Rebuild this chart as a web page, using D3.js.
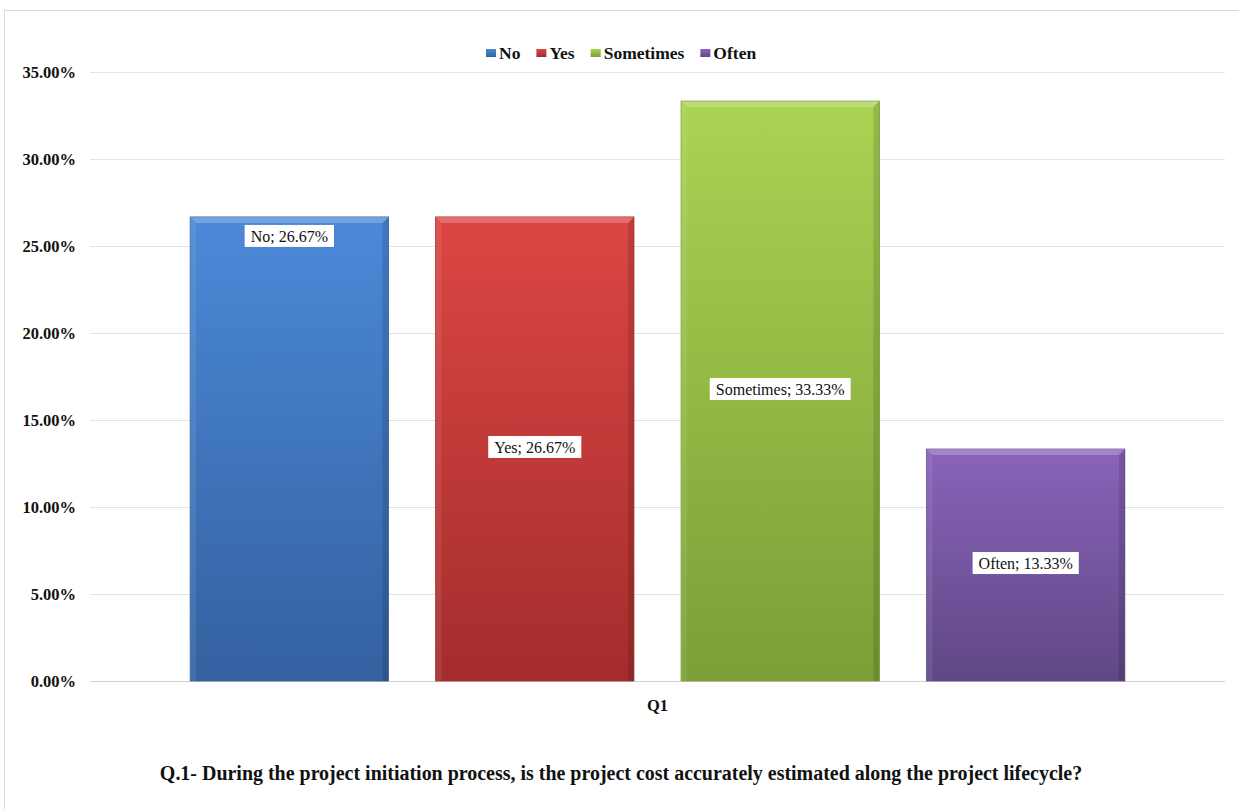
<!DOCTYPE html>
<html><head><meta charset="utf-8">
<script src="https://cdn.jsdelivr.net/npm/d3@7"></script>
<style>
html,body{margin:0;padding:0;background:#fff;}
</style></head>
<body>
<svg id="chart" width="1239" height="809"></svg>
<script>
const categories = ["No", "Yes", "Sometimes", "Often"];
const values = [26.67, 26.67, 33.33, 13.33];
const yTicks = [0, 5, 10, 15, 20, 25, 30, 35];
const groupLabel = "Q1";
const title = "Q.1- During the project initiation process, is the project cost accurately estimated along the project lifecycle?";
const colorsTop = ["#4b89d8", "#dc4644", "#abd353", "#8a63ba"];
const colorsBot = ["#3461a0", "#a32d2c", "#7b9e36", "#5f4785"];
const FONT = "Liberation Serif";

const svg = d3.select("#chart").attr("font-family", FONT);
svg.append("rect").attr("x",4.5).attr("y",10.5).attr("width",1240).attr("height",820)
  .attr("fill","none").attr("stroke","#d9d9d9");

const plot = {left:90, right:1225, top:72, bottom:681};
const y = d3.scaleLinear().domain([0,35]).range([plot.bottom, plot.top]);
const x = d3.scaleBand().domain(categories).range([plot.left, plot.right]).paddingInner(0.192).paddingOuter(0.408);

const defs = svg.append("defs");
categories.forEach((c,i)=>{
  const g = defs.append("linearGradient").attr("id","g"+i).attr("x1",0).attr("y1",0).attr("x2",0).attr("y2",1);
  g.append("stop").attr("offset","0%").attr("stop-color",colorsTop[i]);
  g.append("stop").attr("offset","100%").attr("stop-color",colorsBot[i]);
});

svg.append("g").selectAll("line").data(yTicks).join("line")
  .attr("x1",plot.left).attr("x2",plot.right)
  .attr("y1",d=>Math.round(y(d))+0.5).attr("y2",d=>Math.round(y(d))+0.5)
  .attr("stroke",d=>d===0?"#d0d0d0":"#e3e3e3").attr("stroke-width",1);

const yAxis = d3.axisLeft(y).tickValues(yTicks).tickFormat(d=>d.toFixed(2)+"%").tickSize(0).tickPadding(0);
const ya = svg.append("g").attr("transform",`translate(76,0)`).call(yAxis);
ya.attr("font-family", FONT).attr("font-size",16.5);
ya.select(".domain").remove();
ya.selectAll("text").attr("font-family",FONT).attr("font-size",16.5)
  .attr("font-weight","bold").attr("fill","#111").attr("dy","0.35em");

const bars = svg.append("g");
categories.forEach((c,i)=>{
  const x0 = x(c), w = x.bandwidth(), y0 = y(values[i]), h = plot.bottom - y0;
  const g = bars.append("g");
  g.append("rect").attr("x",x0).attr("y",y0).attr("width",w).attr("height",h).attr("fill",`url(#g${i})`)
    .attr("stroke",colorsBot[i]).attr("stroke-width",0.8);
  const b = 6;
  g.append("path").attr("d",`M${x0},${y0}L${x0+w},${y0}L${x0+w-b},${y0+b}L${x0+b},${y0+b}Z`)
    .attr("fill","#fff").attr("opacity",0.22);
  g.append("path").attr("d",`M${x0},${y0}L${x0+b},${y0+b}L${x0+b},${y0+h}L${x0},${y0+h}Z`)
    .attr("fill","#fff").attr("opacity",0.08);
  g.append("path").attr("d",`M${x0+w},${y0}L${x0+w-b},${y0+b}L${x0+w-b},${y0+h}L${x0+w},${y0+h}Z`)
    .attr("fill","#000").attr("opacity",0.12);
});

const labelG = svg.append("g");
categories.forEach((c,i)=>{
  const cx = x(c) + x.bandwidth()/2;
  const y0 = y(values[i]);
  const cy = i===0 ? y0 + 19 : (y0 + plot.bottom)/2 - 2;
  const t = labelG.append("text").attr("x",cx).attr("y",cy).attr("text-anchor","middle")
    .attr("dy","0.35em").attr("font-family",FONT).attr("font-size",16).attr("fill","#111")
    .text(`${c}; ${values[i].toFixed(2)}%`);
  const tw = t.node().getComputedTextLength();
  labelG.insert("rect", () => t.node()).attr("x",cx - tw/2 - 6).attr("y",cy-11).attr("width",tw+12).attr("height",22).attr("fill","#fff");
});

svg.append("text").attr("x",(plot.left+plot.right)/2).attr("y",705).attr("dy","0.35em")
  .attr("text-anchor","middle").attr("font-family",FONT).attr("font-size",16.5).attr("font-weight","bold").attr("fill","#111").text(groupLabel);

const tt = svg.append("text").attr("x",621).attr("y",773).attr("dy","0.35em")
  .attr("text-anchor","middle").attr("font-family",FONT).attr("font-size",17).attr("font-weight","bold").attr("fill","#111").text(title);
const tw = tt.node().getComputedTextLength();
tt.attr("font-size", 17 * 923 / tw);

const leg = svg.append("g");
let lx = 486;
const ly = 53;
categories.forEach((c,i)=>{
  const g = leg.append("g");
  g.append("rect").attr("x",lx).attr("y",ly-4).attr("width",10).attr("height",8).attr("fill",`url(#g${i})`);
  const t = g.append("text").attr("x",lx+13).attr("y",ly).attr("dy","0.35em").attr("font-family",FONT).attr("font-size",17.5)
    .attr("font-weight","bold").attr("fill","#111").text(c);
  lx += 13 + t.node().getComputedTextLength() + 16;
});
</script>
</body></html>
